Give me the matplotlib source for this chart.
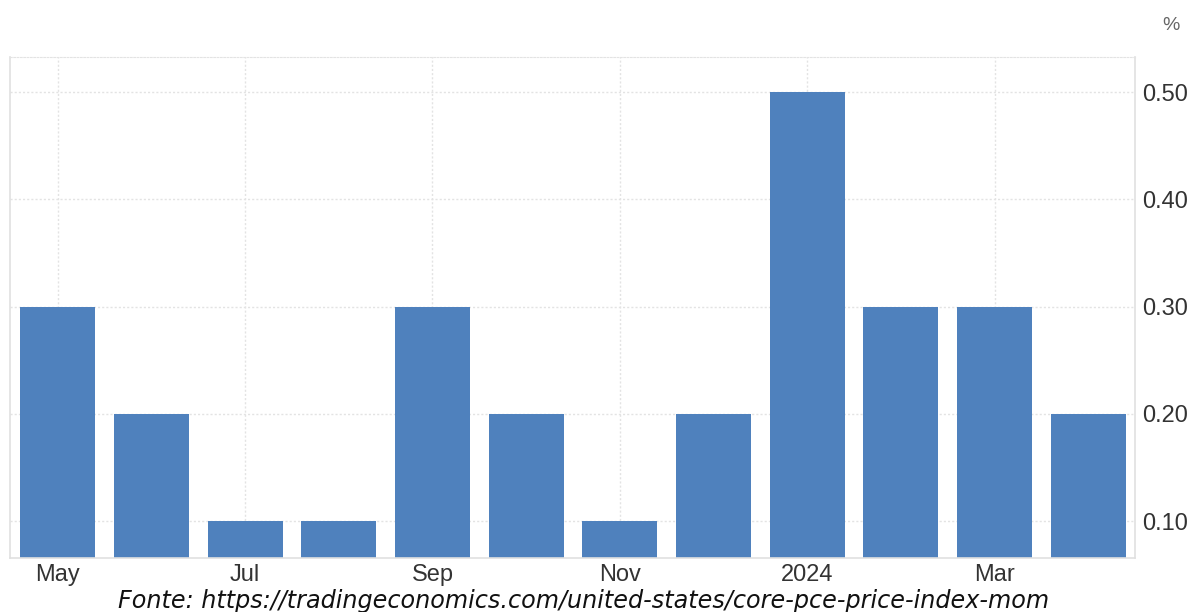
import matplotlib.pyplot as plt

months = ["May", "Jun", "Jul", "Aug", "Sep", "Oct", "Nov", "Dec",
          "Jan", "Feb", "Mar", "Apr"]
values = [0.3, 0.2, 0.1, 0.1, 0.3, 0.2, 0.1, 0.2, 0.5, 0.3, 0.3, 0.2]
tick_idx = [0, 2, 4, 6, 8, 10]
tick_labels = ["May", "Jul", "Sep", "Nov", "2024", "Mar"]
y_ticks = [0.1, 0.2, 0.3, 0.4, 0.5]

plt.rcParams["font.family"] = ["Liberation Sans", "DejaVu Sans"]

fig = plt.figure(figsize=(11.93, 6.12), dpi=100)
ax = fig.add_axes([0.0084, 0.0882, 0.9430, 0.8186])

x = list(range(len(months)))
ax.bar(x, values, width=0.8, color="#4f81bd", bottom=0, zorder=2)

ax.set_xlim(-0.51, 11.5)
ax.set_ylim(0.0656, 0.5326)

ax.set_xticks(tick_idx)
ax.set_xticklabels(tick_labels)
ax.set_yticks(y_ticks)
ax.set_yticklabels([f"{v:.2f}" for v in y_ticks])
ax.yaxis.tick_right()

ax.tick_params(axis="both", length=0, labelsize=17, labelcolor="#333333")
ax.tick_params(axis="x", pad=4)
ax.tick_params(axis="y", pad=5)

ax.grid(True, color="#e3e3e3", linestyle=(0, (1.5, 1.5)), linewidth=1, zorder=0)

for side in ["left", "bottom", "right"]:
    ax.spines[side].set_color("#e0e0e0")
    ax.spines[side].set_linewidth(1.2)
ax.spines["top"].set_color("#e3e3e3")
ax.spines["top"].set_linestyle((0, (1.5, 1.5)))

fig.text(0.989, 0.958, "%", ha="right", va="center", fontsize=14, color="#666666")
fig.text(0.4895, 0.018, "Fonte: https://tradingeconomics.com/united-states/core-pce-price-index-mom",
         ha="center", va="center", fontsize=17.2, style="italic", color="#111111",
         family=["DejaVu Sans"])

fig.savefig("out.png", dpi=100)
